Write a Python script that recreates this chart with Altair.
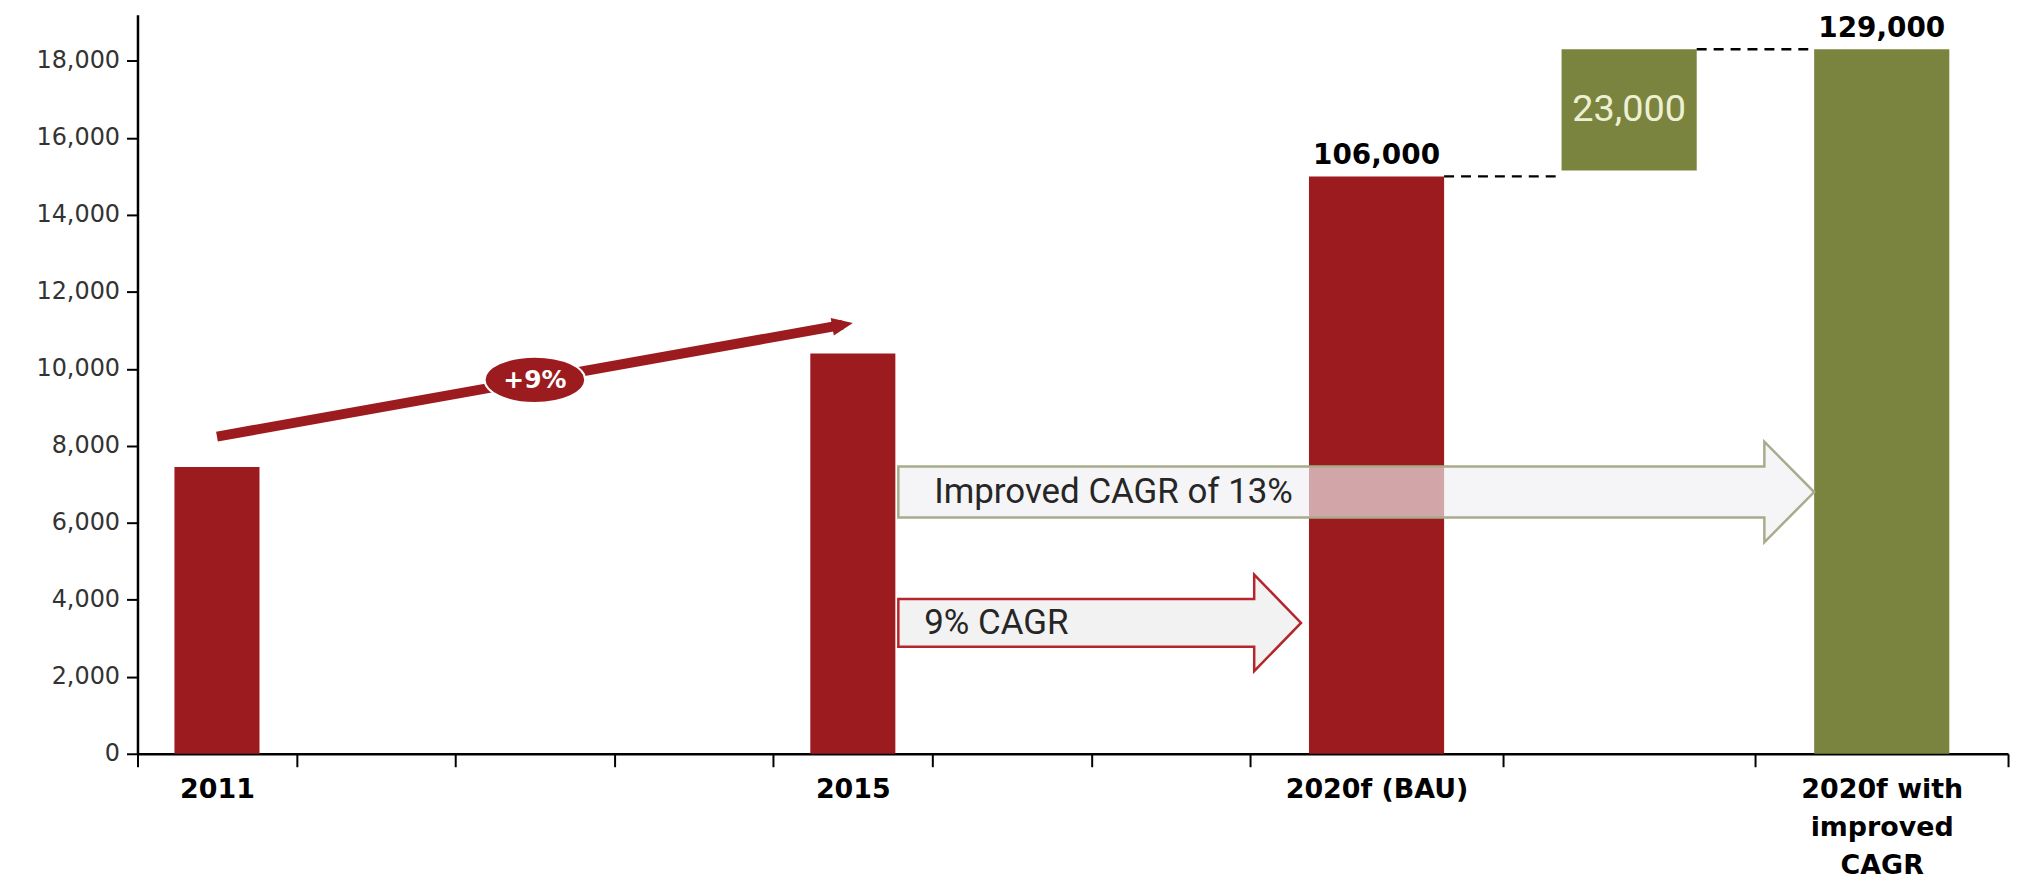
import altair as alt
import numpy as np
import pandas as pd

# ---------------- data ----------------
categories = ["2011", "2015", "2020f (BAU)", "Uplift", "2020f with improved CAGR"]
bar_bottom = [0, 0, 0, 15150, 0]
bar_top = [7450, 10400, 15000, 18300, 18300]
bar_group = ["bau", "bau", "bau", "improved", "improved"]
value_labels = ["", "", "106,000", "23,000", "129,000"]
axis_label_lines = [["2011"], ["2015"], ["2020f (BAU)"], [], ["2020f with", "improved", "CAGR"]]
y_ticks = [0, 2000, 4000, 6000, 8000, 10000, 12000, 14000, 16000, 18000]
growth_label = "+9%"
bau_arrow_label = "9% CAGR"
improved_arrow_label = "Improved CAGR of 13%"

# ---------------- layout ----------------
W, H = 1878, 742
Y_MAX = 19200
SLOT_WIDTHS = [1.0] * 7 + [1.589] * 3      # seven yearly slots, three wide forecast slots
slot_of = [0, 4, 7, 8, 9]                  # slot used by each category
BAR_FRAC = 0.535

edges = np.concatenate([[0.0], np.cumsum(SLOT_WIDTHS)])
X_MAX = float(edges[-1])
centers = (edges[:-1] + edges[1:]) / 2
px_x = W / X_MAX
px_y = H / Y_MAX

RED = "#9c1b1f"
OLIVE = "#7a843e"

cat_center = [float(centers[s]) for s in slot_of]
cat_half = [BAR_FRAC * SLOT_WIDTHS[s] / 2 for s in slot_of]

bars = pd.DataFrame({
    "category": categories,
    "x": [c - h for c, h in zip(cat_center, cat_half)],
    "x2": [c + h for c, h in zip(cat_center, cat_half)],
    "xc": cat_center,
    "y": bar_bottom,
    "y2": bar_top,
    "ymid": [(b + t) / 2 for b, t in zip(bar_bottom, bar_top)],
    "group": bar_group,
    "label": value_labels,
})

x_scale = alt.Scale(domain=[0, X_MAX], nice=False, zero=False)
y_scale = alt.Scale(domain=[0, Y_MAX], nice=False, zero=True)

# x axis: ticks on slot edges, labels at slot centres
lab_centers, lab_texts = [], []
for s, lines in zip(slot_of, axis_label_lines):
    if lines:
        lab_centers.append(round(float(centers[s]), 4))
        if len(lines) == 1:
            lab_texts.append("'" + lines[0] + "'")
        else:
            lab_texts.append("[" + ",".join("'" + l + "'" for l in lines) + "]")
label_expr = "''"
for c, t in reversed(list(zip(lab_centers, lab_texts))):
    label_expr = f"abs(datum.value - {c}) < 0.001 ? {t} : ({label_expr})"
center_test = " || ".join(f"abs(datum.value - {c}) < 0.001" for c in lab_centers)

x_axis = alt.Axis(
    values=[round(float(e), 4) for e in edges] + lab_centers,
    labelExpr=label_expr,
    tickOpacity={"condition": {"test": center_test, "value": 0}, "value": 1},
    tickSize=13, tickWidth=2, tickColor="black",
    domainColor="black", domainWidth=2.5,
    labelFont="DejaVu Sans", labelFontSize=27, labelFontWeight="bold", labelColor="black",
    labelPadding=10, labelLineHeight=38, labelOverlap=False, labelFlush=False, labelBound=False,
    labelLimit=0, grid=False, title=None,
)
y_axis = alt.Axis(
    values=y_ticks, format=",d",
    tickSize=11, tickWidth=2, tickColor="black",
    domainColor="black", domainWidth=2.5,
    labelFont="DejaVu Sans", labelFontSize=24, labelColor="#333333", labelPadding=7,
    grid=False, title=None,
)

def X(f="x"):
    return alt.X(f, type="quantitative", scale=x_scale, axis=x_axis)

def Y(f="y"):
    return alt.Y(f, type="quantitative", scale=y_scale, axis=y_axis)

# bars
bar_layer = alt.Chart(bars).mark_bar().encode(
    x=X("x"), x2="x2", y=Y("y"), y2="y2",
    color=alt.Color("group:N", scale=alt.Scale(domain=["bau", "improved"], range=[RED, OLIVE]), legend=None),
)

# dashed connectors of the waterfall
conn = pd.DataFrame({
    "x": [bars.x2[2], bars.x2[3]],
    "x2": [bars.x[3], bars.x[4]],
    "y": [bar_top[2], bar_top[3]],
})
conn_layer = alt.Chart(conn).mark_rule(color="black", strokeWidth=2.5, strokeDash=[10, 7]).encode(
    x=X("x"), x2="x2", y=Y("y"))

# value labels
tot = bars[(bars.label != "") & (bars.y == 0)]
inc = bars[(bars.label != "") & (bars.y > 0)]
tot_layer = alt.Chart(tot).mark_text(
    font="DejaVu Sans", fontSize=28, fontWeight="bold", color="black", baseline="alphabetic", dy=-12
).encode(x=X("xc"), y=Y("y2"), text="label")
inc_layer = alt.Chart(inc).mark_text(
    font="Roboto", fontSize=38, color="#eef0d4", baseline="middle"
).encode(x=X("xc"), y=Y("ymid"), text="label")

# block arrows (outline polygons as areas)
def block_arrow(x0, tip, cy, body_px, head_px, head_len_px):
    hs = tip - head_len_px / px_x
    b = body_px / px_y
    h = head_px / px_y
    return pd.DataFrame({
        "x": [x0, hs, hs + 1e-6, tip],
        "y": [cy + b, cy + b, cy + h, cy],
        "y2": [cy - b, cy - b, cy - h, cy],
    })

arrow_x0 = bars.x2[1] + 3 / px_x
bau_arrow = block_arrow(arrow_x0, bars.x[2] - 8 / px_x, 3400, 24, 48.5, 47)
imp_arrow = block_arrow(arrow_x0, bars.x[4], 6800, 25.5, 50.5, 50)

imp_layer = alt.Chart(imp_arrow).mark_area(
    fill="#f0f0f2", fillOpacity=0.65, stroke="#a9ab8c", strokeWidth=2.5, strokeJoin="miter"
).encode(x=X("x"), y=Y("y"), y2="y2")
bau_layer = alt.Chart(bau_arrow).mark_area(
    fill="#f2f2f2", fillOpacity=1, stroke="#b3272c", strokeWidth=2.5, strokeJoin="miter"
).encode(x=X("x"), y=Y("y"), y2="y2")

arrow_text = pd.DataFrame({
    "x": [arrow_x0, arrow_x0],
    "y": [3400, 6800],
    "t": [bau_arrow_label, improved_arrow_label],
})
bau_text = alt.Chart(arrow_text.iloc[[0]]).mark_text(
    font="Roboto", fontSize=35, color="#262626", align="left", baseline="middle", dx=26
).encode(x=X("x"), y=Y("y"), text="t")
imp_text = alt.Chart(arrow_text.iloc[[1]]).mark_text(
    font="Roboto", fontSize=35, color="#262626", align="left", baseline="middle", dx=36
).encode(x=X("x"), y=Y("y"), text="t")

# growth arrow 2011 -> 2015
GAP = 790
sx, sy = cat_center[0], bar_top[0] + GAP
tx, ty = cat_center[1], bar_top[1] + GAP
dxp, dyp = (tx - sx) * px_x, -(ty - sy) * px_y
L = (dxp ** 2 + dyp ** 2) ** 0.5
ux, uy = dxp / L, dyp / L
head_len = 21
hx = tx - (head_len / 2) * ux / px_x
hy = ty + (head_len / 2) * uy / px_y
angle = (np.degrees(np.arctan2(uy, ux)) + 360) % 360

gline = pd.DataFrame({"x": [sx, hx], "y": [sy, hy], "i": [0, 1]})
gline_layer = alt.Chart(gline).mark_line(color=RED, strokeWidth=10, strokeCap="butt").encode(
    x=X("x"), y=Y("y"), order="i:Q")
ghead = pd.DataFrame({"x": [hx], "y": [hy]})
ghead_layer = alt.Chart(ghead).mark_point(
    shape="M-1,-0.85L1,0L-1,0.85Z", size=head_len ** 2, filled=True, fill=RED, strokeWidth=0,
    opacity=1, angle=float(angle)
).encode(x=X("x"), y=Y("y"))
gmid = pd.DataFrame({"x": [(sx + tx) / 2], "y": [(sy + ty) / 2], "t": [growth_label]})
ellipse_layer = alt.Chart(gmid).mark_point(
    shape="M-1,0A1,0.46 0 1,1 1,0A1,0.46 0 1,1 -1,0Z", size=101 ** 2, filled=True,
    fill=RED, stroke="white", strokeWidth=2, opacity=1
).encode(x=X("x"), y=Y("y"))
gtext_layer = alt.Chart(gmid).mark_text(
    font="DejaVu Sans", fontSize=25, fontWeight="bold", color="white", baseline="middle"
).encode(x=X("x"), y=Y("y"), text="t")

chart = alt.layer(
    bar_layer, conn_layer, imp_layer, bau_layer, tot_layer, inc_layer,
    bau_text, imp_text, gline_layer, ghead_layer, ellipse_layer, gtext_layer,
).properties(
    width=W, height=H,
    background="white",
    padding={"left": 130, "top": 5, "right": 9, "bottom": 125},
    autosize=alt.AutoSizeParams(type="none"),
).configure_view(stroke=None)

chart.save("out.html", embed_options={"renderer": "svg", "actions": False})
